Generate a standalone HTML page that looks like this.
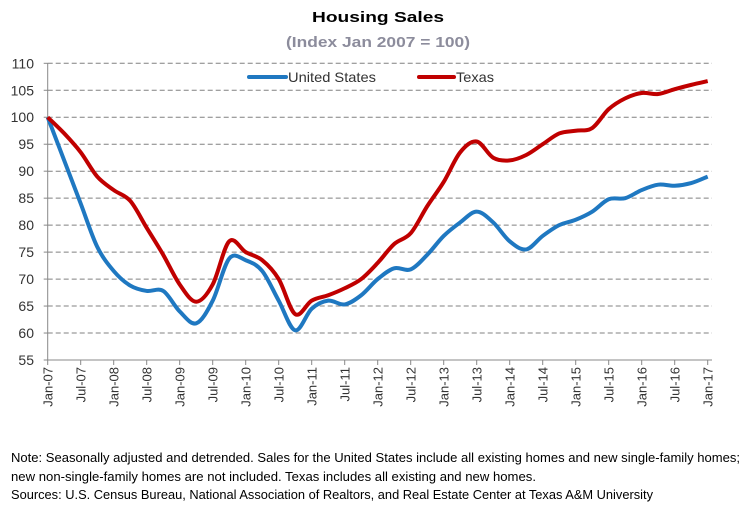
<!DOCTYPE html>
<html><head><meta charset="utf-8"><style>
body{margin:0;background:#fff;}
svg{display:block;font-family:"Liberation Sans",sans-serif;}
</style></head><body>
<svg id="c" width="748" height="511" viewBox="0 0 748 511">
<text x="378" y="22" text-anchor="middle" font-size="15" font-weight="bold" fill="#000" textLength="132" lengthAdjust="spacingAndGlyphs">Housing Sales</text>
<text x="378" y="47" text-anchor="middle" font-size="15" font-weight="bold" fill="#8c8c9c" textLength="184" lengthAdjust="spacingAndGlyphs">(Index Jan 2007 = 100)</text>
<g id="grid"></g>
<g id="yax"></g>
<g id="xax"></g>
<g id="series"></g>
<g>
<g><line x1="249" y1="77" x2="286" y2="77" stroke="#1f78c1" stroke-width="4" stroke-linecap="round"/><text x="288" y="82" font-size="14" fill="#333" textLength="88" lengthAdjust="spacingAndGlyphs">United States</text></g>
<g><line x1="419" y1="77" x2="454" y2="77" stroke="#c00000" stroke-width="4" stroke-linecap="round"/><text x="456" y="82" font-size="14" fill="#333" textLength="38" lengthAdjust="spacingAndGlyphs">Texas</text></g>
</g>
<g font-size="12.5" fill="#000">
<text x="11" y="462" textLength="729" lengthAdjust="spacingAndGlyphs">Note: Seasonally adjusted and detrended. Sales for the United States include all existing homes and new single-family homes;</text>
<text x="11" y="481" textLength="525" lengthAdjust="spacingAndGlyphs">new non-single-family homes are not included. Texas includes all existing and new homes.</text>
<text x="11" y="499" textLength="642" lengthAdjust="spacingAndGlyphs">Sources: U.S. Census Bureau, National Association of Realtors, and Real Estate Center at Texas A&amp;M University</text>
</g>
</svg>
<script>
const xLabels=["Jan-07","Jul-07","Jan-08","Jul-08","Jan-09","Jul-09","Jan-10","Jul-10","Jan-11","Jul-11","Jan-12","Jul-12","Jan-13","Jul-13","Jan-14","Jul-14","Jan-15","Jul-15","Jan-16","Jul-16","Jan-17"];
const yTicks=[55,60,65,70,75,80,85,90,95,100,105,110];
const usValues=[100,92,84,76,71.5,68.8,67.8,67.8,64,61.8,66,73.8,73.5,71.5,66,60.5,64.5,66,65.3,67,70,72,71.8,74.5,78,80.5,82.5,80.5,77,75.5,78,80,81,82.5,84.8,85,86.5,87.5,87.3,87.8,89];
const txValues=[100,97,93.5,89,86.5,84.5,79.5,74.5,69,65.8,69,77,75,73.5,70,63.5,66,67,68.3,70,73,76.5,78.5,83.5,88,93.5,95.5,92.5,92,93,95,97,97.5,98,101.5,103.5,104.5,104.3,105.2,106,106.7];
const NS="http://www.w3.org/2000/svg";
const x0=47.7,xStep=16.5,xRight=712;
const X=i=>x0+i*xStep;
const Y=v=>63.3+(110-v)*(296.7/55);
function mk(tag,attrs,parent){const e=document.createElementNS(NS,tag);for(const k in attrs)e.setAttribute(k,attrs[k]);parent.appendChild(e);return e;}
const grid=document.getElementById('grid'),yax=document.getElementById('yax'),xax=document.getElementById('xax'),ser=document.getElementById('series');
yTicks.forEach(v=>{
 if(v>55){const l=mk('line',{x1:x0,x2:xRight,y1:Y(v),y2:Y(v),stroke:'#808080','stroke-width':1,'stroke-dasharray':'5,3'},grid);
 
 }
 const t=mk('text',{x:34,y:Y(v)+5,'text-anchor':'end','font-size':14,fill:'#333'},yax);t.textContent=v;
 
 
 mk('line',{x1:x0-4,x2:x0,y1:Y(v),y2:Y(v),stroke:'#888'},yax);
});
mk('line',{x1:x0,x2:x0,y1:Y(110),y2:Y(55),stroke:'#888'},yax);
mk('line',{x1:x0,x2:xRight,y1:Y(55),y2:Y(55),stroke:'#888'},xax);
xLabels.forEach((s,i)=>{
 const x=X(i*2);
 mk('line',{x1:x,x2:x,y1:Y(55),y2:Y(55)+5,stroke:'#888'},xax);
 const t=mk('text',{x:0,y:0,'text-anchor':'end','font-size':13,fill:'#333',transform:`translate(${x+5},${Y(55)+7}) rotate(-90)`},xax);
 t.textContent=s;
 
 
});
function path(vals){
 const p=vals.map((v,i)=>[X(i),Y(v)]);
 let d=`M${p[0][0]},${p[0][1]}`;
 for(let i=0;i<p.length-1;i++){
  const a=p[i-1]||p[i],b=p[i],c=p[i+1],e=p[i+2]||c;
  d+=` C${b[0]+(c[0]-a[0])/6},${b[1]+(c[1]-a[1])/6} ${c[0]-(e[0]-b[0])/6},${c[1]-(e[1]-b[1])/6} ${c[0]},${c[1]}`;
 }
 return d;
}
const pu=mk('path',{d:path(usValues),fill:'none',stroke:'#1f78c1','stroke-width':4,'stroke-linejoin':'round'},ser);


const pt=mk('path',{d:path(txValues),fill:'none',stroke:'#c00000','stroke-width':4,'stroke-linejoin':'round'},ser);


</script>
</body></html>
